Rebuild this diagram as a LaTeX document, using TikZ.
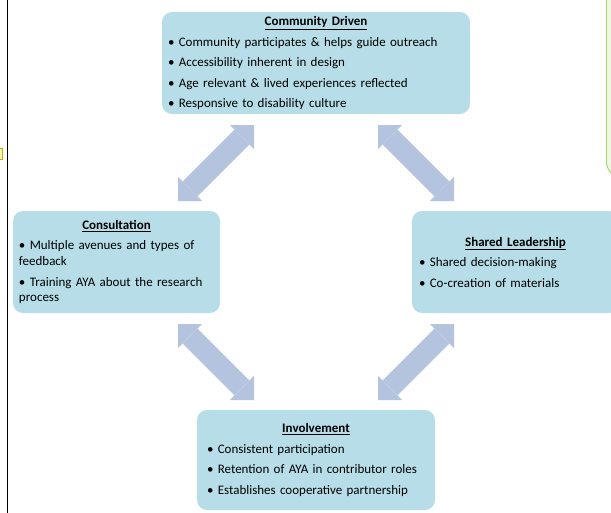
\documentclass[tikz,border=0pt]{standalone}
\usepackage{fontspec}
\setmainfont{Carlito}
\usetikzlibrary{arrows.meta}

\definecolor{boxfill}{HTML}{B7DEE8}
\definecolor{arrowfill}{HTML}{B4C3DE}
\definecolor{notefill}{HTML}{EEF7DF}
\definecolor{noteedge}{HTML}{A6D06A}
\definecolor{tagfill}{HTML}{F6F2B8}
\definecolor{tagedge}{HTML}{B8B400}

\tikzset{
  stage/.style={
    fill=boxfill, rounded corners=10pt, inner ysep=0pt, inner xsep=6pt,
    minimum height=102pt, align=left,
    font=\fontsize{13}{15.6}\selectfont
  },
  link/.style={
    draw=arrowfill, line width=21pt,
    {Triangle[width=34pt,length=17pt,line width=0pt]}-{Triangle[width=34pt,length=17pt,line width=0pt]}
  }
}
\newcommand{\stagetitle}[1]{{\centering\textbf{\underline{#1}}\par}}
\newcommand{\pt}{\textbullet\ }
\newcommand{\gap}{\par\vspace{4.9pt}}

\begin{document}
\begin{tikzpicture}[x=1pt, y=-1pt]
  \useasboundingbox (0,0) rectangle (611,512);

  % margin rule and side elements
  \coordinate (ruletop) at (7.3,-2);
  \coordinate (rulebot) at (7.3,514);
  \draw[black, line width=1.1pt] (ruletop) -- (rulebot);
  \node[draw=tagedge, fill=tagfill, line width=0.8pt, minimum width=6pt, minimum height=11pt, inner sep=0pt] (tag) at (-1,153.5) {};
  \node[draw=noteedge, fill=notefill, line width=0.9pt, rounded corners=16pt,
        minimum width=60pt, minimum height=220pt, inner sep=0pt, anchor=south west] (note) at (606,178) {};

  % the four stages
  \node[stage, text width=296pt, minimum width=308pt] (top) at (316,63) {%
    \stagetitle{Community Driven}\vspace{4.9pt}
    \pt Community participates \& helps guide outreach\gap
    \pt Accessibility inherent in design\gap
    \pt Age relevant \& lived experiences reflected\gap
    \pt Responsive to disability culture};

  \node[stage, text width=195pt, minimum width=207pt] (left) at (116.5,262) {%
    \stagetitle{Consultation}\vspace{4.9pt}
    \pt Multiple avenues and types of\\feedback\gap
    \pt Training AYA about the research\\process};

  \node[stage, text width=193pt, inner xsep=7pt, minimum width=207pt] (right) at (515.5,262) {%
    \stagetitle{Shared Leadership}\vspace{4.9pt}
    \pt Shared decision-making\gap
    \pt Co-creation of materials};

  \node[stage, text width=218pt, inner xsep=10pt, minimum width=238pt, minimum height=100pt] (bottom) at (316,460) {%
    \stagetitle{Involvement}\vspace{4.9pt}
    \pt Consistent participation\gap
    \pt Retention of AYA in contributor roles\gap
    \pt Establishes cooperative partnership};

  % arrow ends between the stages
  \coordinate (tl-a) at (254,125);
  \coordinate (tl-b) at (178,201);
  \coordinate (tr-a) at (378,125);
  \coordinate (tr-b) at (454,201);
  \coordinate (bl-a) at (178,324);
  \coordinate (bl-b) at (254,400);
  \coordinate (br-a) at (454,324);
  \coordinate (br-b) at (378,400);

  \draw[link] (tl-a) -- (tl-b);
  \draw[link] (tr-a) -- (tr-b);
  \draw[link] (bl-a) -- (bl-b);
  \draw[link] (br-a) -- (br-b);
\end{tikzpicture}
\end{document}
